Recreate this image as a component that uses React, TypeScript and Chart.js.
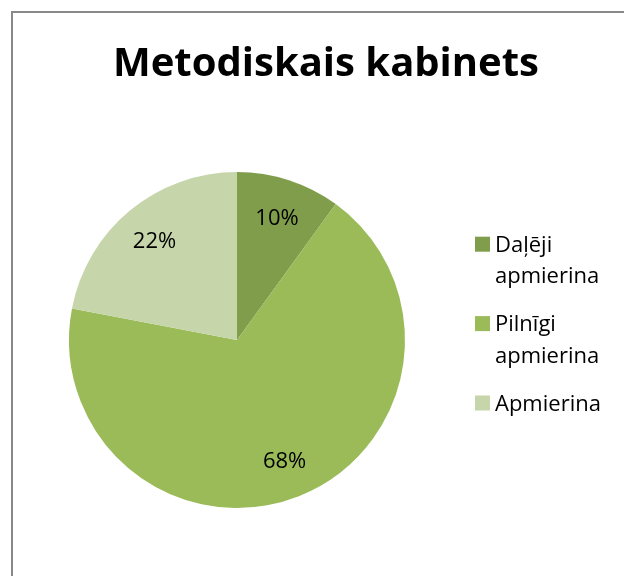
import React, { useEffect, useRef } from "react";
import { Chart, registerables, layouts } from "chart.js";

Chart.register(...registerables);

// ---- data ----
const titleText = "Metodiskais kabinets";
const categories = ["Daļēji apmierina", "Pilnīgi apmierina", "Apmierina"];
const values = [10, 68, 22];
const colors = ["#7F9D4B", "#9BBB59", "#C6D6AA"];

const FONT = "'Open Sans', 'Noto Sans', sans-serif";

function wrapText(ctx: CanvasRenderingContext2D, text: string, maxW: number): string[] {
  const words = text.split(" ");
  const lines: string[] = [];
  let cur = "";
  for (const w of words) {
    const t = cur ? cur + " " + w : w;
    if (cur && ctx.measureText(t).width > maxW) {
      lines.push(cur);
      cur = w;
    } else {
      cur = t;
    }
  }
  if (cur) lines.push(cur);
  return lines;
}

const framePlugin = {
  id: "frame",
  beforeDraw(chart: any) {
    const ctx = chart.ctx as CanvasRenderingContext2D;
    ctx.save();
    ctx.fillStyle = "#ffffff";
    ctx.fillRect(0, 0, chart.width, chart.height);
    ctx.strokeStyle = "#898989";
    ctx.lineWidth = 2;
    ctx.strokeRect(12, 12, chart.width + 40, chart.height + 40);
    ctx.restore();
  },
};

const pctLabelsPlugin = {
  id: "pctLabels",
  afterDatasetsDraw(chart: any) {
    const ctx = chart.ctx as CanvasRenderingContext2D;
    const meta = chart.getDatasetMeta(0);
    const data = chart.data.datasets[0].data as number[];
    const total = data.reduce((a, b) => a + b, 0);
    ctx.save();
    ctx.font = `22px ${FONT}`;
    ctx.fillStyle = "#000000";
    ctx.textAlign = "center";
    ctx.textBaseline = "alphabetic";
    meta.data.forEach((arc: any, i: number) => {
      const p = arc.getProps(["x", "y", "startAngle", "endAngle", "outerRadius"], true);
      const mid = (p.startAngle + p.endAngle) / 2;
      const r = p.outerRadius * 0.77;
      const tx = p.x + Math.cos(mid) * r;
      const ty = p.y + Math.sin(mid) * r;
      ctx.fillText(Math.round((data[i] / total) * 100) + "%", tx, ty + 8);
    });
    ctx.restore();
  },
};

const sideLegendPlugin = {
  id: "sideLegend",
  beforeInit(chart: any) {
    const box: any = {
      position: "right",
      weight: 0,
      fullSize: false,
      options: { stackWeight: 1 },
      top: 0,
      left: 0,
      right: 0,
      bottom: 0,
      width: 0,
      height: 0,
      isHorizontal() {
        return false;
      },
      update(_maxW: number, maxH: number) {
        this.width = 178;
        this.height = maxH;
      },
      draw() {
        const ctx = chart.ctx as CanvasRenderingContext2D;
        const labels = chart.data.labels as string[];
        const bg = chart.data.datasets[0].backgroundColor as string[];
        const cy = (this.top + this.bottom) / 2;
        const sq = 15;
        const lh = 31.7;
        const gap = 16;
        const boxX = this.left + 29;
        const textX = boxX + 20;
        ctx.save();
        ctx.font = `22px ${FONT}`;
        ctx.textAlign = "left";
        ctx.textBaseline = "alphabetic";
        let y = cy - 88.3;
        labels.forEach((label, i) => {
          const lines = wrapText(ctx, label, 120);
          ctx.fillStyle = bg[i];
          ctx.fillRect(boxX, y - sq, sq, sq);
          ctx.fillStyle = "#000000";
          lines.forEach((ln, j) => ctx.fillText(ln, textX, y + j * lh));
          y += lines.length * lh + gap;
        });
        ctx.restore();
      },
    };
    layouts.addBox(chart, box);
  },
};

export default function App() {
  const ref = useRef<HTMLCanvasElement>(null);
  useEffect(() => {
    if (!ref.current) return;
    const chart = new Chart(ref.current, {
      type: "pie",
      data: {
        labels: categories,
        datasets: [
          {
            data: values,
            backgroundColor: colors,
            borderWidth: 0,
          },
        ],
      },
      options: {
        responsive: false,
        animation: false,
        layout: { padding: { left: 28, right: 0, top: 0, bottom: 68 } },
        plugins: {
          legend: { display: false },
          tooltip: { enabled: false },
          title: {
            display: true,
            text: titleText,
            color: "#000000",
            font: { family: FONT, size: 40, weight: "bold", lineHeight: 1.2 },
            padding: { top: 41, bottom: 83 },
          },
        },
      },
      plugins: [framePlugin, pctLabelsPlugin, sideLegendPlugin],
    } as any);
    let alive = true;
    (document as any).fonts?.ready?.then(() => {
      if (alive) chart.update();
    });
    return () => {
      alive = false;
      chart.destroy();
    };
  }, []);
  return (
    <div
      style={{
        position: "fixed",
        left: 0,
        top: 0,
        width: 624,
        height: 576,
        overflow: "hidden",
        background: "#ffffff",
      }}
    >
      <canvas ref={ref} width={624} height={576} style={{ display: "block" }} />
    </div>
  );
}
